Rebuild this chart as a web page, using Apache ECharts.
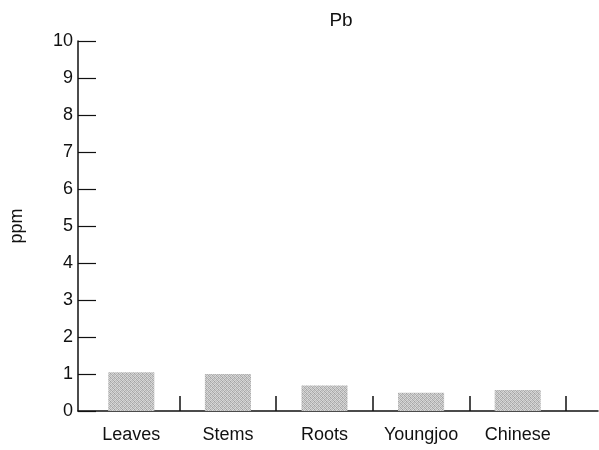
<!DOCTYPE html>
<html><head><meta charset="utf-8">
<script src="https://cdn.jsdelivr.net/npm/echarts@6/dist/echarts.min.js"></script>
<style>html,body{margin:0;padding:0;background:#fff}#c{width:599px;height:450px}</style>
</head><body><div id="c"></div>
<script>
const categories = ['Leaves', 'Stems', 'Roots', 'Youngjoo', 'Chinese'];
const pbValues = [1.05, 1.0, 0.69, 0.49, 0.57];
const yTicks = [0, 10, 1];
const titleText = 'Pb';
const yName = 'ppm';

const font = '"Liberation Sans", Arial, sans-serif';

// stipple texture for the bars (fixed pattern, styling only)
const pat = document.createElement('canvas');
pat.width = 4; pat.height = 4;
const pctx = pat.getContext('2d');
const shades = [
  [205, 170, 215, 190],
  [185, 220, 160, 210],
  [215, 180, 200, 175],
  [165, 210, 185, 220]
];
for (let r = 0; r < 4; r++) for (let c = 0; c < 4; c++) {
  const g = shades[r][c];
  pctx.fillStyle = 'rgb(' + g + ',' + g + ',' + g + ')';
  pctx.fillRect(c, r, 1, 1);
}

const chart = echarts.init(document.getElementById('c'));
chart.setOption({
  backgroundColor: '#fff',
  animation: false,
  title: { text: titleText, left: 336, top: 6, textAlign: 'center',
    textStyle: { fontFamily: font, fontSize: 19, fontWeight: 'normal', color: '#111' } },
  grid: [
    { left: 83, right: 33, top: 41, bottom: 39 },
    { left: 76, right: 1, top: 41, bottom: 39 }
  ],
  xAxis: [
    { type: 'category', gridIndex: 0, data: categories, boundaryGap: true,
      axisLine: { show: false },
      axisTick: { show: true, inside: true, length: 15, lineStyle: { color: '#111', width: 1.5 },
        interval: function (idx) { return idx !== 0; } },
      axisLabel: { interval: 0, fontFamily: font, fontSize: 18, color: '#111', margin: 15 } },
    { type: 'value', gridIndex: 1, min: 0, max: 1, show: true,
      axisLine: { show: true, onZero: false, lineStyle: { color: '#111', width: 1.5 } },
      axisTick: { show: false }, axisLabel: { show: false }, splitLine: { show: false } }
  ],
  yAxis: [
    { type: 'value', gridIndex: 1, min: yTicks[0], max: yTicks[1], interval: yTicks[2],
      name: yName, nameLocation: 'middle', nameGap: 52, nameRotate: 90,
      nameTextStyle: { fontFamily: font, fontSize: 18, color: '#111' },
      axisLine: { show: true, lineStyle: { color: '#111', width: 1.5 } },
      axisTick: { show: true, inside: true, length: 18, lineStyle: { color: '#111', width: 1.2 } },
      axisLabel: { fontFamily: font, fontSize: 18, color: '#111', margin: 5 },
      splitLine: { show: false } },
    { type: 'value', gridIndex: 0, min: yTicks[0], max: yTicks[1], show: false }
  ],
  series: [{
    type: 'bar', xAxisIndex: 0, yAxisIndex: 1, data: pbValues, barWidth: 46,
    itemStyle: { color: { image: pat, repeat: 'repeat' } }
  }]
});
</script></body></html>
